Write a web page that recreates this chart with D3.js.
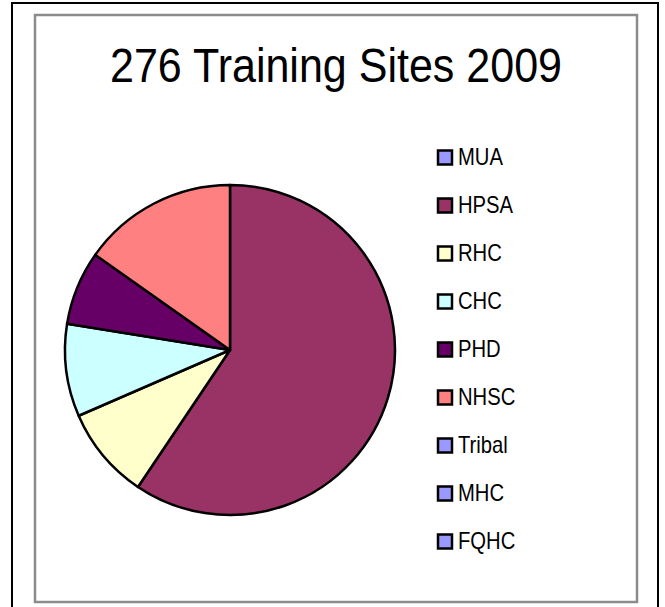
<!DOCTYPE html>
<html>
<head>
<meta charset="utf-8">
<script src="https://cdn.jsdelivr.net/npm/d3@7"></script>
<style>
  body { margin: 0; background: #fff; }
  .title-label { font-family: "Liberation Sans", Arial, sans-serif; font-size: 48px; fill: #000; }
  .legend-label { font-family: "Liberation Sans", Arial, sans-serif; font-size: 23px; fill: #000; }
</style>
</head>
<body>
<svg width="665" height="607"></svg>
<script>
const svg = d3.select('svg');
const width = +svg.attr('width');
const height = +svg.attr('height');

// sites per category (total 276)
const categories = ['MUA', 'HPSA', 'RHC', 'CHC', 'PHD', 'NHSC', 'Tribal', 'MHC', 'FQHC'];
const sites = [0, 164, 25, 25, 20, 42, 0, 0, 0];
const colors = ['#9999FF', '#993366', '#FFFFCC', '#CCFFFF', '#660066', '#FF8080', '#9999FF', '#9999FF', '#9999FF'];
const title = '276 Training Sites 2009';

const data = categories.map((c, i) => ({category: c, value: sites[i]}));

const colorScale = d3.scaleOrdinal()
    .domain(categories)
    .range(colors);

// outer and inner frames
svg.append('rect')
    .attr('x', 12).attr('y', 3)
    .attr('width', 646).attr('height', 620)
    .attr('fill', 'none')
    .attr('stroke', '#000')
    .attr('stroke-width', 2);

svg.append('rect')
    .attr('x', 35).attr('y', 15)
    .attr('width', 602).attr('height', 587)
    .attr('fill', 'none')
    .attr('stroke', '#8c8c8c')
    .attr('stroke-width', 2.5);

// squeeze the title to the narrow width of the original
svg.append('text')
    .attr('class', 'title-label')
    .attr('x', 110)
    .attr('y', 82)
    .attr('textLength', 452)
    .attr('lengthAdjust', 'spacingAndGlyphs')
    .text(title);

// pie
const radius = 165;
const pieG = svg.append('g')
    .attr('transform', `translate(230, 350)`);

const pie = d3.pie()
    .value(d => d.value)
    .sort(null);

const arc = d3.arc()
    .innerRadius(0)
    .outerRadius(radius);

pieG.selectAll('path')
    .data(pie(data).filter(d => d.data.value > 0))
    .enter().append('path')
        .attr('d', arc)
        .attr('fill', d => colorScale(d.data.category))
        .attr('stroke', '#000')
        .attr('stroke-width', 2.5)
        .attr('stroke-linejoin', 'round');

// legend
const legendY = d3.scalePoint()
    .domain(categories)
    .range([157.5, 541.5]);

const item = svg.append('g').selectAll('g')
    .data(categories)
    .enter().append('g')
        .attr('transform', d => `translate(438, ${legendY(d)})`);

item.append('rect')
    .attr('x', 0)
    .attr('y', -7)
    .attr('width', 14)
    .attr('height', 14)
    .attr('fill', d => colorScale(d))
    .attr('stroke', '#000')
    .attr('stroke-width', 2.5);

item.append('text')
    .attr('class', 'legend-label')
    .attr('transform', 'translate(20, 7.5) scale(0.88, 1)')
    .text(d => d);
</script>
</body>
</html>
